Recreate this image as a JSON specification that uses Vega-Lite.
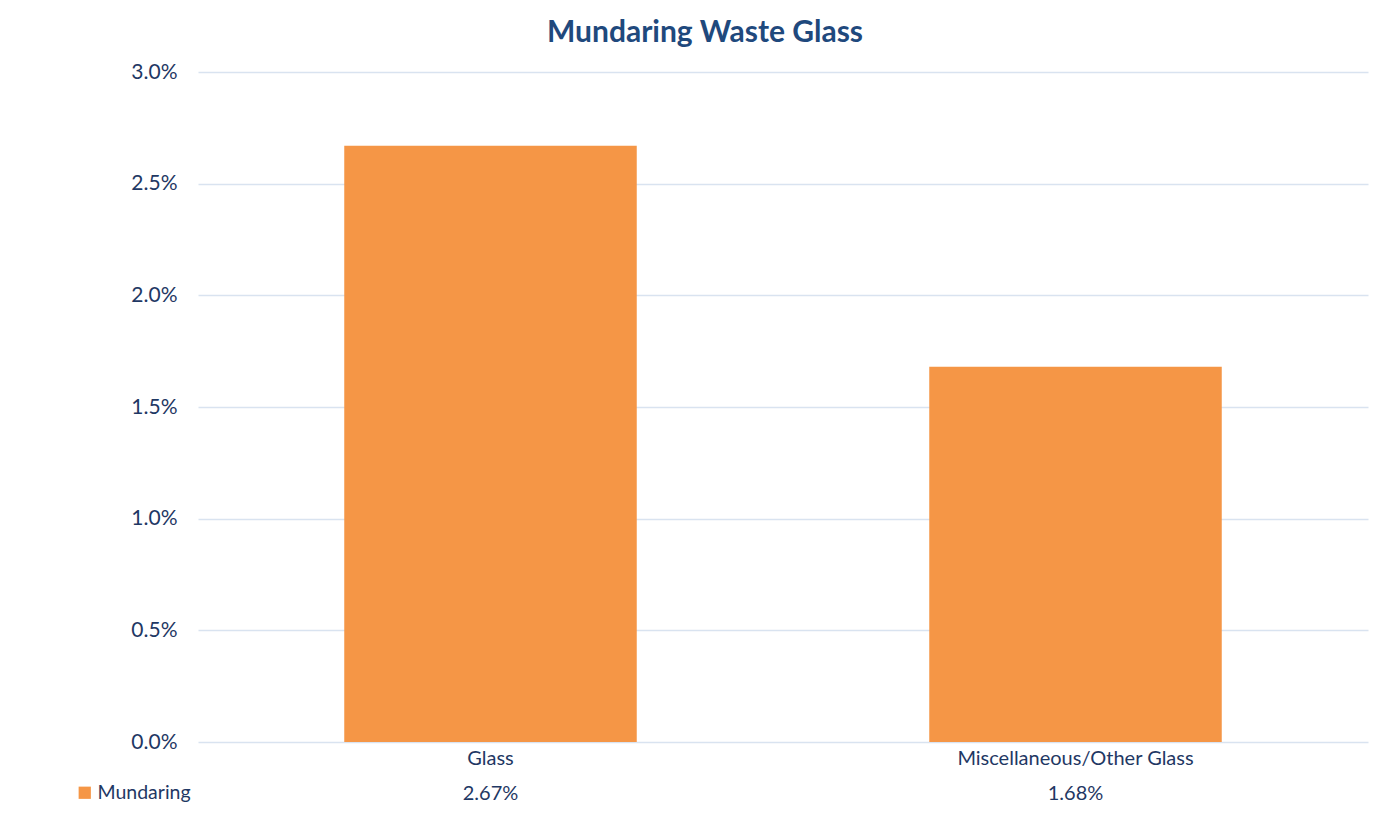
{
  "$schema": "https://vega.github.io/schema/vega-lite/v6.json",
  "width": 1170,
  "height": 670,
  "autosize": {"type": "none"},
  "padding": {"left": 198, "top": 72, "right": 31, "bottom": 94},
  "background": "white",
  "title": {
    "text": "Mundaring Waste Glass",
    "anchor": "middle",
    "frame": "group",
    "dx": -78,
    "font": "Lato",
    "fontSize": 30,
    "fontWeight": "bold",
    "color": "#1F497D",
    "offset": 13
  },
  "data": {
    "values": [
      {"category": "Glass", "series": "Mundaring", "value": 0.0267},
      {"category": "Miscellaneous/Other Glass", "series": "Mundaring", "value": 0.0168}
    ]
  },
  "config": {
    "view": {"stroke": null},
    "font": "Lato"
  },
  "layer": [
    {
      "mark": {"type": "bar", "color": "#F59646"},
      "encoding": {
        "x": {
          "field": "category",
          "type": "nominal",
          "sort": null,
          "scale": {"paddingInner": 0.5, "paddingOuter": 0.25},
          "axis": {
            "title": null,
            "labelAngle": 0,
            "labelLimit": 0,
            "domain": false,
            "ticks": false,
            "labelPadding": 6,
            "labelFont": "Lato",
            "labelFontSize": 20,
            "labelColor": "#1F3864"
          }
        },
        "y": {
          "field": "value",
          "type": "quantitative",
          "scale": {"domain": [0, 0.03]},
          "axis": {
            "title": null,
            "format": ".1%",
            "values": [0, 0.005, 0.01, 0.015, 0.02, 0.025, 0.03],
            "domain": false,
            "ticks": false,
            "labelPadding": 21,
            "labelFont": "Lato",
            "labelFontSize": 21,
            "labelColor": "#1F3864",
            "gridColor": "#D9E3F0",
            "gridWidth": 1.5
          }
        },
        "color": {
          "field": "series",
          "type": "nominal",
          "scale": {"range": ["#F59646"]},
          "legend": {
            "title": null,
            "orient": "none",
            "legendX": -123,
            "legendY": 711,
            "symbolType": "square",
            "symbolSize": 150,
            "symbolStrokeWidth": 0,
            "labelFont": "Lato",
            "labelFontSize": 19.5,
            "labelColor": "#1F3864",
            "labelOffset": 3
          }
        }
      }
    },
    {
      "mark": {"type": "text", "dy": 52, "baseline": "middle", "font": "Lato", "fontSize": 20, "color": "#1F3864"},
      "encoding": {
        "x": {"field": "category", "type": "nominal", "sort": null},
        "y": {"datum": 0, "type": "quantitative"},
        "text": {"field": "value", "type": "quantitative", "format": ".2%"}
      }
    }
  ]
}
